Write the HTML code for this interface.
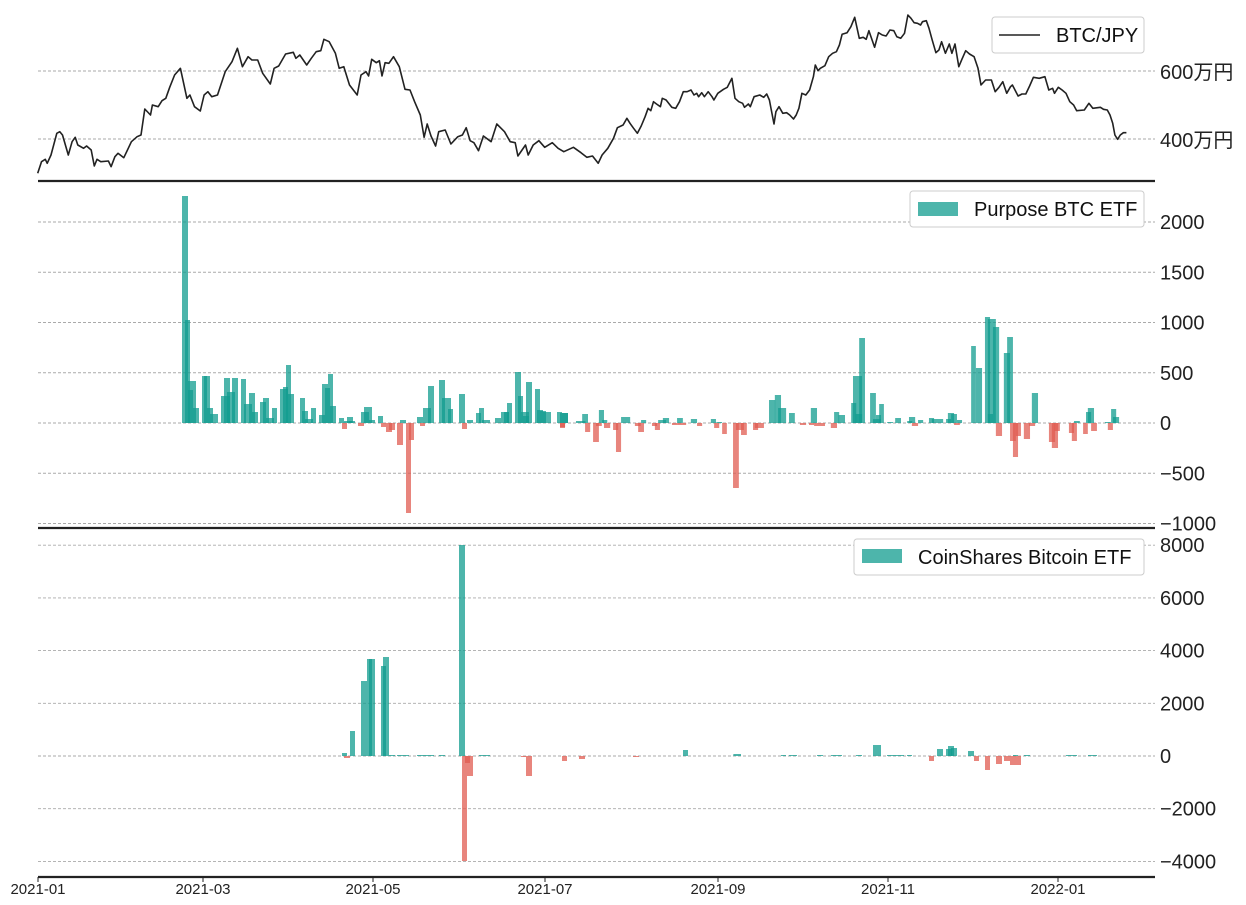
<!DOCTYPE html>
<html><head><meta charset="utf-8">
<style>
html,body{margin:0;padding:0;background:#fff;}
svg{display:block;font-family:"Liberation Sans","Noto Sans CJK JP",sans-serif;}
</style></head>
<body>
<svg id="s" width="1246" height="905" viewBox="0 0 1246 905" xmlns="http://www.w3.org/2000/svg">
<g id="grid" stroke="#aaa" stroke-width="0.9" stroke-dasharray="3,2"></g>
<g id="bars"></g>
<polyline id="price" fill="none" stroke="#222" stroke-width="1.6" stroke-linejoin="round"></polyline>
<g stroke="#222" stroke-width="2.2">
<line x1="38" y1="181" x2="1155" y2="181"/>
<line x1="38" y1="528" x2="1155" y2="528"/>
<line x1="38" y1="877" x2="1155" y2="877"/>
</g>
<g id="ticks" stroke="#222" stroke-width="1"></g>
<g id="labels" fill="#222"></g>
<!-- legends -->
<rect x="992" y="17" width="152" height="36" rx="3" fill="#fff" stroke="#ccc"/>
<line x1="999" y1="35" x2="1040" y2="35" stroke="#222" stroke-width="1.6"/>
<text x="1056" y="42" font-size="20" fill="#111">BTC/JPY</text>
<rect x="910" y="191" width="234" height="36" rx="3" fill="#fff" stroke="#ccc"/>
<rect x="918" y="202" width="40" height="14" fill="#4db5ab"/>
<text x="974" y="216" font-size="20" fill="#111">Purpose BTC ETF</text>
<rect x="854" y="539" width="290" height="36" rx="3" fill="#fff" stroke="#ccc"/>
<rect x="862" y="549" width="40" height="14" fill="#4db5ab"/>
<text x="918" y="564" font-size="20" fill="#111">CoinShares Bitcoin ETF</text>
</svg>
<script>
var NS="http://www.w3.org/2000/svg";
function el(p,t,a,txt){var e=document.createElementNS(NS,t);for(var k in a)e.setAttribute(k,a[k]);if(txt!=null)e.textContent=txt;p.appendChild(e);return e;}
var grid=document.getElementById('grid'),bars=document.getElementById('bars'),labels=document.getElementById('labels'),ticks=document.getElementById('ticks');
function hline(y){el(grid,'line',{x1:38,x2:1155,y1:y,y2:y});}
// panel1
hline(71);hline(139);
el(labels,'text',{x:1160,y:79,'font-size':20},'600万円');
el(labels,'text',{x:1160,y:147,'font-size':20},'400万円');
// panel2
[2000,1500,1000,500,0,-500,-1000].forEach(function(v){var y=423-v*0.1005;hline(y);
 el(labels,'text',{x:1160,y:y+7,'font-size':20},(v<0?'\u2212'+(-v):v));});
// panel3
[8000,6000,4000,2000,0,-2000,-4000].forEach(function(v){var y=756-v*0.02635;hline(y);
 el(labels,'text',{x:1160,y:y+7,'font-size':20},(v<0?'\u2212'+(-v):v));});
// x ticks
[[38,'2021-01'],[203,'2021-03'],[373,'2021-05'],[545,'2021-07'],[718,'2021-09'],[888,'2021-11'],[1058,'2022-01']].forEach(function(t){
 el(ticks,'line',{x1:t[0],x2:t[0],y1:877,y2:882});
 el(labels,'text',{x:t[0],y:894,'font-size':15,'text-anchor':'middle'},t[1]);});
// price
var z1=[[20,520],[30,485],[40,478],[45,490],[55,465],[70,400],[78,395],[85,405],[100,465],[110,425],[118,412],[125,435],[140,445],[148,438],[160,450],[168,498],[175,478],[185,485],[205,483],[212,500],[222,470],[230,460],[245,473],[265,425],[280,410],[290,405],[300,327],[315,345],[320,315],[335,320],[345,302],[355,295],[365,262],[378,225],[393,205],[410,295],[418,285],[430,320],[445,333],[455,285],[465,275],[475,290],[490,285],[510,215],[528,185],[542,145],[555,200],[570,170],[580,180],[595,180],[608,220],[628,252],[638,205],[650,198],[668,162],[688,157],[695,175],[705,165],[723,195],[735,175],[748,155],[760,152],[768,118],[782,125],[798,160],[808,205],[820,200],[835,255],[855,285],[865,225],[878,215],[885,228],[893,178],[905,188],[913,182],[920,228],[928,188],[938,190],[950,170],[965,200],[980,268],[993,270],[1005,305],[1020,345],[1030,412],[1038,372],[1048,408],[1060,438],[1068,395],[1085,390],[1100,432],[1118,410],[1130,405],[1140,383],[1150,422],[1160,428],[1172,452],[1185,408],[1205,425],[1220,372],[1240,395],[1255,425],[1268,428],[1275,468],[1295,435],[1302,465],[1315,435],[1330,422],[1345,442],[1365,428],[1380,445],[1395,455],[1420,442],[1440,458],[1455,472],[1470,468],[1485,490],[1495,465],[1510,445],[1525,415],[1535,383],[1550,375],[1560,355],[1568,370]];
var z2=[[10,468],[25,470],[35,468],[45,490],[55,462],[65,455],[70,445],[85,425],[95,400],[100,382],[110,378],[120,352],[130,370],[140,385],[150,400],[160,378],[170,350],[178,325],[185,332],[192,305],[200,312],[210,320],[215,295],[225,300],[240,322],[250,325],[260,305],[270,275],[280,275],[290,270],[298,285],[305,280],[310,290],[318,278],[325,290],[335,275],[345,290],[350,300],[360,280],[375,268],[385,262],[397,235],[405,295],[415,305],[425,310],[430,322],[440,312],[445,320],[455,290],[470,285],[480,292],[488,282],[495,300],[500,330],[507,372],[512,335],[520,320],[530,340],[540,338],[548,345],[558,357],[565,345],[572,325],[580,280],[590,285],[600,270],[610,230],[615,195],[622,212],[628,205],[640,197],[650,170],[660,160],[670,155],[678,135],[685,103],[698,98],[708,80],[718,52],[730,115],[740,112],[748,118],[755,92],[770,142],[780,98],[790,105],[800,108],[810,90],[820,92],[828,110],[838,115],[848,100],[857,45],[865,55],[873,68],[882,70],[890,75],[895,65],[905,62],[912,85],[920,118],[930,158],[938,150],[945,125],[955,160],[965,132],[972,160],[980,132],[990,200],[998,178],[1008,152],[1018,162],[1030,170],[1040,205],[1048,255],[1060,240],[1075,240],[1085,275],[1095,262],[1105,245],[1115,280],[1125,260],[1130,255],[1145,288],[1155,282],[1165,282],[1175,258],[1185,232],[1200,235],[1215,230],[1225,270],[1235,265],[1240,280],[1250,262],[1260,270],[1270,280],[1280,305],[1290,315],[1298,332],[1318,330],[1330,310],[1340,325],[1360,322],[1368,328],[1378,330],[1385,345],[1392,370],[1398,405],[1405,418],[1412,405],[1420,398],[1428,398]];
var pts=[],sx=600/1568;
z1.forEach(function(p){pts.push((p[0]*sx+30).toFixed(1)+','+(p[1]/3).toFixed(1));});
z2.forEach(function(p){var x=p[0]*sx+580;if(x>630-2||true)pts.push(x.toFixed(1)+','+(p[1]/3).toFixed(1));});
// filter monotonic x
var out=[],lastx=-1;pts.forEach(function(s){var x=parseFloat(s);if(x>lastx){out.push(s);lastx=x;}});
document.getElementById('price').setAttribute('points',out.join(' '));
var TEAL='rgba(17,156,143,0.75)',RED='rgba(224,92,81,0.75)';
function bar(x0,x1,zero,h){if(Math.abs(h)<0.5)h=h<0?-1:1;var y=h>0?zero-h:zero;el(bars,'rect',{x:x0,y:y,width:Math.max(1,x1-x0),height:Math.abs(h),fill:h>0?TEAL:RED});}
// panel2 zoom3: x=zx/3+170, zero 423
var b3=[[36,54,227],[45,60,103],[54,78,42],[69,87,15],[54,69,33],[96,120,47],[102,111,47],[111,129,15],[120,144,9],[153,180,27],[162,180,45],[171,195,31],[186,204,45],[213,228,44],[222,246,19],[237,255,30],[246,264,11],[270,288,21],[279,297,25],[288,312,5],[306,321,15],[330,354,34],[339,354,36],[348,363,58],[354,372,29],[390,405,25],[396,414,12],[405,429,4],[423,438,15],[447,465,8],[456,474,39],[465,480,35],[474,489,49],[480,498,17],[507,522,5],[516,531,-6],[522,546,2],[531,549,6],[537,555,2],[564,582,-3],[573,597,11],[582,606,16],[597,615,3],[624,639,7],[633,648,-4],[648,666,-9],[657,675,-7],[681,699,-22],[690,708,3],[708,723,-90],[717,732,-17],[741,759,6],[750,765,-3],[759,783,15],[774,792,37],[807,825,43],[816,843,25],[834,849,14],[867,885,29],[876,891,-6],[891,909,3],[918,933,10],[927,942,15],[936,960,3],[975,993,5],[993,1017,11],[1002,1017,11],[1011,1026,20],[1035,1053,51],[1044,1059,27],[1053,1077,11],[1059,1077,7],[1068,1086,41],[1095,1110,34],[1101,1119,13],[1110,1128,12],[1119,1143,11],[1161,1176,11],[1170,1185,-5],[1176,1194,10]];
b3.forEach(function(b){bar(b[0]/3+170,b[1]/3+170,423,b[2]);});
var s6=570/1568;
var b6=[[0,22,10],[0,14,-4],[44,70,2],[61,77,9],[69,83,-9],[91,107,-19],[99,115,-3],[107,121,13],[116,130,3],[121,138,-5],[146,160,-7],[154,168,-29],[168,193,6],[206,222,-3],[215,231,-9],[223,237,3],[253,267,-3],[261,275,-7],[270,292,3],[283,300,5],[308,322,-2],[322,338,5],[322,347,-2],[360,377,4],[377,391,-3],[415,429,4],[424,438,-5],[430,446,1],[446,459,-11],[476,492,-65],[484,506,-7],[498,514,-12],[531,545,-7],[536,561,-5],[575,592,23],[591,608,28],[600,622,15],[630,646,10],[660,677,-2],[685,699,-2],[690,707,15],[699,729,-3],[745,762,-5],[754,768,11],[766,784,8],[801,815,20],[806,831,47],[813,831,9],[823,839,85],[853,869,30],[861,883,4],[869,883,8],[878,891,19],[900,916,1],[922,938,5],[955,969,2],[960,977,6],[968,985,-3],[985,999,3],[1015,1029,5],[1023,1054,4],[1062,1076,4],[1067,1084,10],[1076,1092,9],[1084,1100,-2],[1092,1106,3],[1131,1144,77],[1144,1161,55],[1169,1183,106],[1177,1199,104],[1177,1191,9],[1191,1208,96],[1199,1216,-13],[1221,1238,70],[1230,1246,86],[1238,1254,-18],[1246,1260,-34],[1254,1268,-13],[1276,1293,-16],[1290,1307,-3],[1298,1315,30],[1345,1362,-19],[1353,1370,-25],[1360,1375,-8],[1400,1414,-10],[1408,1422,-18],[1414,1430,2],[1439,1452,-11],[1447,1461,11],[1452,1469,15],[1461,1477,-8],[1499,1515,1],[1507,1521,-7],[1516,1530,14],[1521,1538,6]];
b6.forEach(function(b){bar(b[0]*s6+560,b[1]*s6+560,423,b[2]);});
// panel3 zoom7: x=zx/3+330 zero 756
var b7=[[36,51,3],[42,60,-2],[60,75,25],[93,111,75],[111,135,97],[117,126,97],[153,168,90],[159,177,99],[177,195,1],[201,237,1],[261,312,1],[327,345,1],[387,405,211],[396,411,-105],[405,420,-7],[411,429,-20],[447,480,1],[573,588,-1],[588,606,-20]];
b7.forEach(function(b){bar(b[0]/3+330,b[1]/3+330,756,b[2]);});
bar(562,567,756,-5);bar(579,585,756,-3);bar(633,639,756,-1);
var b8=[[69,84,6],[220,243,2],[363,378,1],[387,411,1],[471,489,1],[513,546,1],[588,606,1],[639,663,11],[681,732,1],[741,756,1],[807,822,-5],[831,849,7],[858,876,7],[864,882,10],[873,891,8],[924,942,5],[942,957,-5],[975,990,-14],[1008,1026,-8],[1032,1050,-5],[1050,1083,-9],[1059,1074,1],[1092,1110,1],[1218,1251,1],[1284,1311,1]];
b8.forEach(function(b){bar(b[0]/3+660,b[1]/3+660,756,b[2]);});
</script>
</body></html>
